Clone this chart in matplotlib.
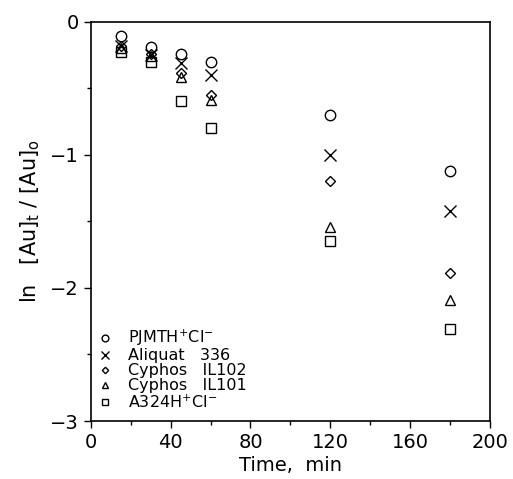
import matplotlib
matplotlib.use("Agg")
import matplotlib.pyplot as plt
from matplotlib.ticker import MultipleLocator

time = [15, 30, 45, 60, 120, 180]
pjmth = [-0.105, -0.19, -0.24, -0.30, -0.70, -1.12]
aliquat = [-0.18, -0.25, -0.31, -0.40, -1.00, -1.42]
cyphos102 = [-0.18, -0.24, -0.39, -0.55, -1.20, -1.89]
cyphos101 = [-0.20, -0.26, -0.42, -0.59, -1.54, -2.09]
a324 = [-0.23, -0.30, -0.60, -0.80, -1.65, -2.31]

labels = [r"PJMTH$^{+}$Cl$^{-}$", "Aliquat   336", "Cyphos   IL102",
          "Cyphos   IL101", r"A324H$^{+}$Cl$^{-}$"]
series = [pjmth, aliquat, cyphos102, cyphos101, a324]
markers = ["o", "x", "D", "^", "s"]
sizes = [7.5, 8, 5, 7, 7]

fig = plt.figure(figsize=(5.13, 4.79), dpi=100)
ax = fig.add_axes([0.177, 0.121, 0.778, 0.834])

for y, m, s, lab in zip(series, markers, sizes, labels):
    if m == "x":
        ax.plot(time, y, linestyle="none", marker=m, markersize=s, color="black",
                markeredgewidth=1.0, label=lab)
    else:
        ax.plot(time, y, linestyle="none", marker=m, markersize=s, markerfacecolor="none",
                markeredgecolor="black", markeredgewidth=1.0, label=lab)

ax.set_xlim(0, 200)
ax.set_ylim(-3, 0)
ax.xaxis.set_major_locator(MultipleLocator(40))
ax.xaxis.set_minor_locator(MultipleLocator(20))
ax.yaxis.set_major_locator(MultipleLocator(1))
ax.yaxis.set_minor_locator(MultipleLocator(0.5))
ax.tick_params(which="both", direction="out", top=False, right=False, labelsize=14, width=1.0)
ax.tick_params(which="major", length=5)
ax.tick_params(which="minor", length=3)
for sp in ax.spines.values():
    sp.set_linewidth(1.2)

ax.set_xlabel("Time,  min", fontsize=14, labelpad=3)
ax.set_ylabel(r"ln   [Au]$_{\mathrm{t}}$ / [Au]$_{\mathrm{o}}$", fontsize=15, labelpad=6)

leg = ax.legend(loc="lower left", bbox_to_anchor=(-0.01, 0.0), frameon=False, fontsize=11.5,
                markerscale=0.65, handlelength=1.0, handletextpad=0.9, labelspacing=0.0,
                borderaxespad=0.25)

fig.savefig("out.png", dpi=100)
